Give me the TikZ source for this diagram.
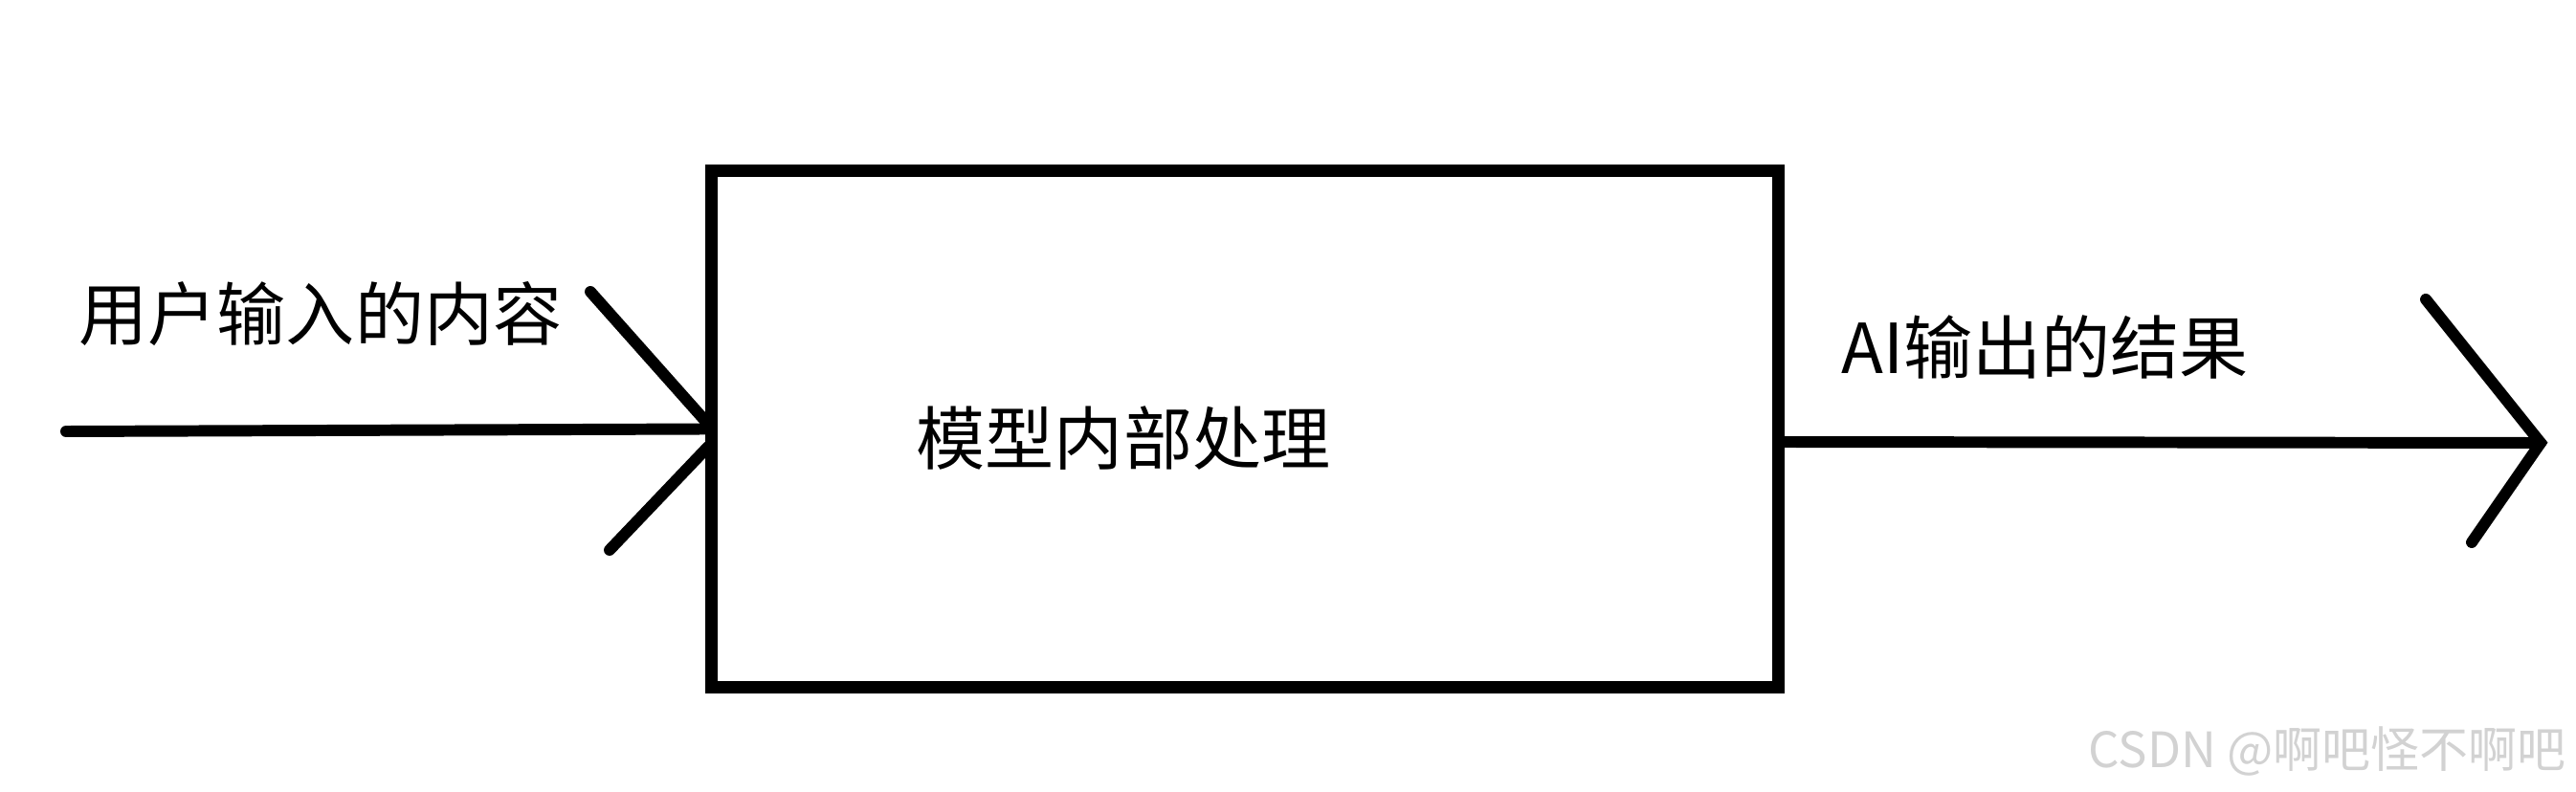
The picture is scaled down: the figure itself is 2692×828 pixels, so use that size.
\documentclass[tikz,border=0pt]{standalone}
\usepackage{fontspec}
\setmainfont{Noto Sans CJK SC}
\begin{document}
\begin{tikzpicture}[x=0.01cm, y=-0.01cm,
    stroke/.style={line width=3.4pt, line cap=round},
    caption/.style={inner sep=0pt, font=\fontsize{20.5pt}{24pt}\selectfont}]
  \useasboundingbox (0, 0) rectangle (2692, 828);
  \node[draw, line width=3.7pt, minimum width=11.145cm, minimum height=5.4cm, inner sep=0pt] (model) at (1301.25, 448.5) {};
  \node[caption] (modeltext) at (1174, 458) {模型内部处理};

  % input
  \coordinate (instart) at (69, 451);
  \coordinate (inup) at (617, 305);
  \coordinate (inuptip) at (737, 440);
  \coordinate (inlowtip) at (740, 467);
  \coordinate (inlow) at (637, 575);
  \draw[stroke] (instart) -- (model.west);
  \draw[stroke] (inup) -- (inuptip);
  \draw[stroke] (inlowtip) -- (inlow);
  \node[caption] (inlabel) at (335, 328) {用户输入的内容};

  % output
  \coordinate (outstart) at (1858.5, 462);
  \coordinate (outtip) at (2655, 463);
  \coordinate (outup) at (2535, 313);
  \coordinate (outlow) at (2583, 567);
  \draw[stroke] (outstart) -- (outtip);
  \draw[stroke] (outup) -- (outtip) -- (outlow);
  \node[caption] (outlabel) at (2137, 363) {AI输出的结果};

  \node[inner sep=0pt, text=gray!35, font=\fontsize{14.5pt}{17pt}\selectfont] (mark) at (2432, 785) {CSDN @啊吧怪不啊吧};
\end{tikzpicture}
\end{document}
